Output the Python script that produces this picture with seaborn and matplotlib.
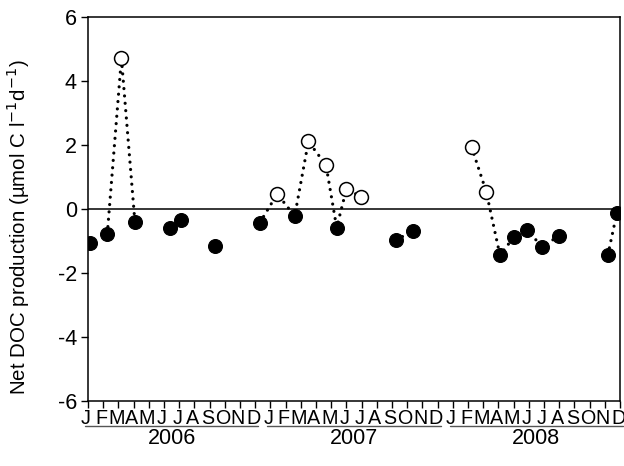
import pandas as pd
import seaborn as sns
import matplotlib.pyplot as plt
import matplotlib.transforms as mtransforms

# sampling time as month index (0 = Jan 2006), net DOC production, line segment
month_pos = [0.13, 1.27, 2.2, 3.09, 5.4, 6.1, 8.36,
             11.3, 12.45, 13.6, 14.5, 15.66, 16.36, 17.0, 17.96,
             20.26, 21.36,
             25.24, 26.2, 27.1, 28.05, 28.86, 29.9, 30.97,
             34.2, 34.8]
net_doc = [-1.07, -0.78, 4.71, -0.42, -0.58, -0.34, -1.16,
           -0.43, 0.47, -0.22, 2.11, 1.37, -0.58, 0.62, 0.39,
           -0.97, -0.69,
           1.93, 0.54, -1.44, -0.86, -0.66, -1.18, -0.84,
           -1.44, -0.11]
segment = [0, 1, 1, 1, 2, 2, 3,
           4, 4, 4, 4, 4, 4, 4, 4,
           5, 5,
           6, 6, 6, 6, 6, 6, 6,
           7, 7]

month_letters = ['J', 'F', 'M', 'A', 'M', 'J', 'J', 'A', 'S', 'O', 'N', 'D']
years = ['2006', '2007', '2008']
y_ticks = [-6, -4, -2, 0, 2, 4, 6]

df = pd.DataFrame({'month': month_pos, 'doc': net_doc, 'seg': segment})
df['kind'] = ['open' if v > 0 else 'filled' for v in df['doc']]

sns.set_style('ticks')
plt.rcParams['font.family'] = ['Liberation Sans', 'DejaVu Sans']
plt.rcParams['axes.unicode_minus'] = False
plt.rcParams['text.color'] = 'black'
plt.rcParams['axes.labelcolor'] = 'black'
plt.rcParams['xtick.color'] = 'black'
plt.rcParams['ytick.color'] = 'black'

fig = plt.figure(figsize=(6.24, 4.66), dpi=100)
ax = fig.add_axes([0.141, 0.1395, 0.8526, 0.824])

# dotted connecting lines
sns.lineplot(data=df, x='month', y='doc', units='seg', estimator=None,
             color='black', lw=2.3, ax=ax, legend=False, sort=False)
for ln in ax.get_lines():
    ln.set_linestyle((0, (0.01, 2.3)))
    ln.set_dash_capstyle('round')

ax.axhline(0, color='black', lw=1.1, zorder=1)

sns.scatterplot(data=df[df['kind'] == 'filled'], x='month', y='doc', s=100,
                color='black', edgecolor='black', linewidth=0.8, ax=ax, zorder=3)
sns.scatterplot(data=df[df['kind'] == 'open'], x='month', y='doc', s=100,
                facecolor='white', edgecolor='black', linewidth=1.1, ax=ax, zorder=3)

ax.set_xlim(0, 35)
ax.set_ylim(-6, 6)
ax.set_yticks(y_ticks)
ax.set_xticks(range(36))
ax.set_xticklabels(month_letters * 3)
ax.tick_params(axis='x', direction='out', length=5, width=1, pad=0.5, labelsize=14.2)
ax.tick_params(axis='y', direction='out', length=5, width=1, pad=3, labelsize=15.5)
shift = mtransforms.ScaledTranslation(-2 / 100, 0, fig.dpi_scale_trans)
for lab in ax.get_xticklabels():
    lab.set_transform(lab.get_transform() + shift)
for s in ax.spines.values():
    s.set_linewidth(1.1)
    s.set_color('black')

ax.set_xlabel('')
ax.set_ylabel('Net DOC production (\u00b5mol C l$^{-1}$d$^{-1}$)', fontsize=14.8)
ax.yaxis.set_label_coords(-0.105, 0.453)

# year labels with a line above them
trans = mtransforms.blended_transform_factory(ax.transData, ax.transAxes)
for i, yr in enumerate(years):
    x0 = i * 12
    ax.plot([x0 - 0.2, x0 + 11.2], [-0.066, -0.066], color='#555555', lw=1,
            transform=trans, clip_on=False)
    ax.text(x0 + 5.5, -0.098, yr, transform=trans, ha='center', va='center', fontsize=15.5)

fig.savefig('out.png', dpi=100)
